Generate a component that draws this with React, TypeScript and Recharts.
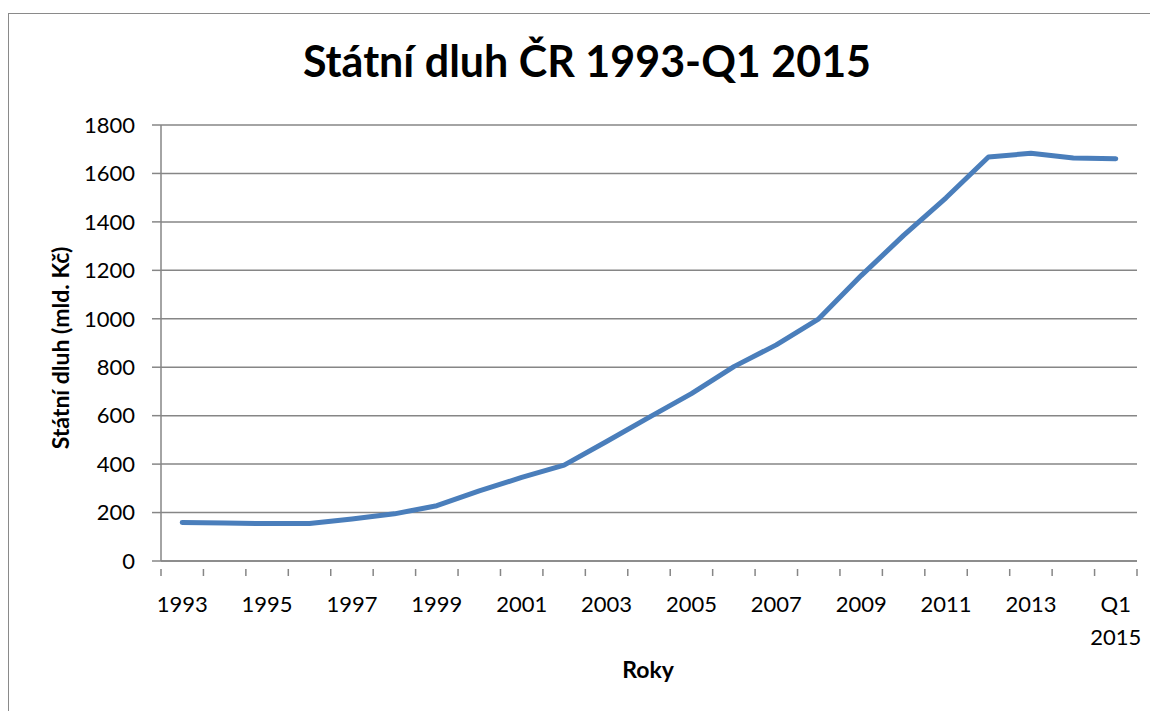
import React from 'react';
import { LineChart, Line, XAxis, YAxis, CartesianGrid } from 'recharts';

const categories = ['1993','1994','1995','1996','1997','1998','1999','2000','2001','2002','2003','2004','2005','2006','2007','2008','2009','2010','2011','2012','2013','2014','Q1 2015'];
const debt = [158.8,157.3,154.4,155.2,173.1,194.7,228.4,289.3,345.0,395.9,493.2,592.9,691.2,802.5,892.3,999.8,1178.2,1344.1,1499.4,1667.6,1683.3,1663.7,1661.0];
const yTicks = [0,200,400,600,800,1000,1200,1400,1600,1800];

const data = categories.map((c, i) => ({ year: c, debt: debt[i] }));

const W = 1150;
const H = 703;
const M = { top: 117, right: 21, left: 0, bottom: 0 };
const Y_W = 153;
const X_H = 150;
const PLOT_W = W - M.left - M.right - Y_W;
const BAND = PLOT_W / categories.length;
const FONT = 'Lato, "Open Sans", sans-serif';
const AXIS = '#868686';

const XTick = (props: any) => {
  const { x, y, payload, index } = props;
  const label: string = String(payload.value);
  const parts = label.split(' ');
  const show = index % 2 === 0 || index === categories.length - 1;
  return (
    <g>
      <line x1={x - BAND / 2} x2={x - BAND / 2} y1={y} y2={y + 7} stroke={AXIS} strokeWidth={1.5} />
      {index === categories.length - 1 && (
        <line x1={x + BAND / 2} x2={x + BAND / 2} y1={y} y2={y + 7} stroke={AXIS} strokeWidth={1.5} />
      )}
      {show && (
        <text x={x} y={y + 43} textAnchor="middle" fontFamily={FONT} fontSize={22} fill="#000">
          {parts.map((p, i) => (
            <tspan key={i} x={x} dy={i === 0 ? 0 : 33}>{p}</tspan>
          ))}
        </text>
      )}
    </g>
  );
};

export default function App() {
  return (
    <div style={{ position: 'relative', width: W, height: H }}>
      <div style={{ position: 'absolute', left: 0, top: 5, width: W, height: H - 5, borderLeft: '1.5px solid #8a8a8a', borderTop: '1.5px solid #8a8a8a', boxSizing: 'border-box', pointerEvents: 'none' }} />
      <div style={{ position: 'absolute', left: 0, top: 0 }}>
        <LineChart width={W} height={H} data={data} margin={M}>
          <text x={579} y={69} textAnchor="middle" fontFamily={FONT} fontWeight={700} fontSize={43} fill="#000">
            Státní dluh ČR 1993-Q1 2015
          </text>
          <text x={640} y={670} textAnchor="middle" fontFamily={FONT} fontWeight={700} fontSize={23} fill="#000">
            Roky
          </text>
          <text x={52} y={340} transform="rotate(-90 52 340)" textAnchor="middle" dominantBaseline="central" fontFamily={FONT} fontWeight={700} fontSize={23} fill="#000">
            Státní dluh (mld. Kč)
          </text>
          <CartesianGrid horizontal={true} vertical={false} stroke={AXIS} strokeWidth={1.5} />
          <XAxis
            dataKey="year"
            scale="band"
            interval={0}
            height={X_H}
            tickLine={false}
            axisLine={{ stroke: AXIS, strokeWidth: 1.5 }}
            tick={<XTick />}
          />
          <YAxis
            width={Y_W}
            domain={[0, 1800]}
            ticks={yTicks}
            interval={0}
            tickSize={9}
            tickMargin={17}
            axisLine={{ stroke: AXIS, strokeWidth: 1.5 }}
            tickLine={{ stroke: AXIS, strokeWidth: 1.5 }}
            tick={{ fontFamily: FONT, fontSize: 22, fill: '#000' }}
          />
          <Line
            type="linear"
            dataKey="debt"
            stroke="#4a7ebb"
            strokeWidth={5}
            strokeLinecap="round"
            strokeLinejoin="round"
            dot={false}
            activeDot={false}
            isAnimationActive={false}
          />
        </LineChart>
      </div>
    </div>
  );
}
